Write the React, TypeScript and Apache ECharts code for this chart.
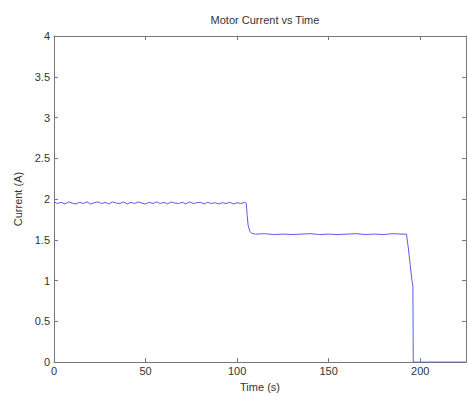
import React, { useEffect, useRef } from "react";
import * as echarts from "echarts";

const chartTitle = "Motor Current vs Time";
const xName = "Time (s)";
const yName = "Current (A)";

// [time (s), current (A)] samples
const currentSamples: [number, number][] = [
  [0, 1.965], [2, 1.945], [4, 1.96], [6, 1.94], [8, 1.965], [10, 1.95], [12, 1.94], [14, 1.96],
  [16, 1.945], [18, 1.965], [20, 1.94], [22, 1.955], [24, 1.965], [26, 1.945], [28, 1.96], [30, 1.94],
  [32, 1.965], [34, 1.95], [36, 1.945], [38, 1.965], [40, 1.94], [42, 1.96], [44, 1.945], [46, 1.965],
  [48, 1.95], [50, 1.94], [52, 1.96], [54, 1.945], [56, 1.965], [58, 1.945], [60, 1.96], [62, 1.94],
  [64, 1.965], [66, 1.95], [68, 1.945], [70, 1.96], [72, 1.94], [74, 1.965], [76, 1.945], [78, 1.955],
  [80, 1.96], [82, 1.94], [84, 1.96], [86, 1.945], [88, 1.955], [90, 1.94], [92, 1.955], [94, 1.945],
  [96, 1.96], [98, 1.94], [100, 1.955], [102, 1.945], [104, 1.96], [105, 1.95],
  [105.5, 1.8], [106, 1.68], [107, 1.6], [108, 1.58], [110, 1.57], [115, 1.575], [120, 1.565],
  [125, 1.57], [130, 1.565], [135, 1.57], [140, 1.575], [145, 1.565], [150, 1.57], [155, 1.565],
  [160, 1.57], [165, 1.575], [170, 1.565], [175, 1.57], [180, 1.565], [185, 1.575], [190, 1.57],
  [192.5, 1.57], [193.5, 1.4], [194.5, 1.2], [195.5, 1.0], [196, 0.93], [196.2, 0], [200, 0], [225, 0],
];

const xMin = 0;
const xMax = 225;
const xStep = 50;
const yMin = 0;
const yMax = 4;
const yStep = 0.5;

export default function App() {
  const ref = useRef<HTMLDivElement>(null);
  useEffect(() => {
    if (!ref.current) return;
    const chart = echarts.init(ref.current, undefined, { renderer: "svg" });
    const font = "Liberation Sans";
    const axisLine = { show: true, onZero: false, lineStyle: { color: "#777", width: 1 } };
    const tick = { show: true, inside: true, length: 4, lineStyle: { color: "#777" } };
    chart.setOption({
      animation: false,
      backgroundColor: "#fff",
      title: {
        text: chartTitle,
        left: 260,
        top: 9,
        textAlign: "center",
        textStyle: { fontFamily: font, fontSize: 11, fontWeight: "normal", color: "#333" },
      },
      grid: { left: 54, right: 2, top: 36, bottom: 32, containLabel: false },
      xAxis: [
        {
          type: "value", min: xMin, max: xMax, interval: xStep, position: "bottom",
          name: xName, nameLocation: "middle", nameGap: 16,
          nameTextStyle: { fontFamily: font, fontSize: 11, color: "#333" },
          axisLine, axisTick: tick, splitLine: { show: false },
          axisLabel: { fontFamily: font, fontSize: 11, color: "#333", margin: 3, showMaxLabel: false },
        },
        {
          type: "value", min: xMin, max: xMax, interval: xStep, position: "top",
          axisLine, axisTick: tick, splitLine: { show: false }, axisLabel: { show: false },
        },
      ],
      yAxis: [
        {
          type: "value", min: yMin, max: yMax, interval: yStep, position: "left",
          name: yName, nameLocation: "middle", nameGap: 30,
          nameTextStyle: { fontFamily: font, fontSize: 11, color: "#333" },
          axisLine, axisTick: tick, splitLine: { show: false },
          axisLabel: { fontFamily: font, fontSize: 11, color: "#333", margin: 4 },
        },
        {
          type: "value", min: yMin, max: yMax, interval: yStep, position: "right",
          axisLine, axisTick: tick, splitLine: { show: false }, axisLabel: { show: false },
        },
      ],
      series: [
        {
          type: "line",
          data: currentSamples,
          showSymbol: false,
          lineStyle: { color: "#5a5af0", width: 1 },
          xAxisIndex: 0,
          yAxisIndex: 0,
          z: 1,
        },
      ],
    });
    return () => chart.dispose();
  }, []);
  return <div ref={ref} style={{ width: 468, height: 397, position: "absolute", left: 0, top: 0 }} />;
}
